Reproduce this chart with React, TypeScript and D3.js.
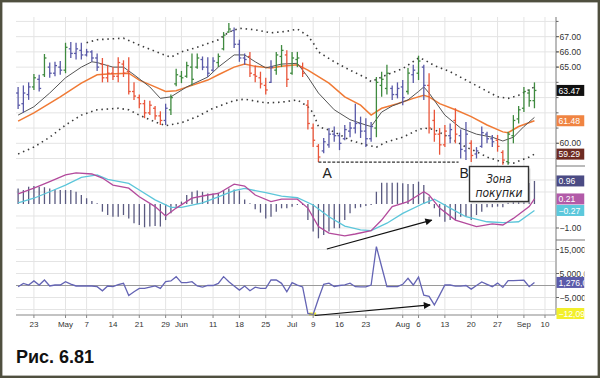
import React from "react";
import * as d3 from "d3";

// ---------- DATA ----------
const startDay = "2007-04-18";
const endDayExcl = "2007-09-11";
const holidays = ["2007-05-28", "2007-07-04", "2007-09-03"];

const tickDates = ["2007-04-23","2007-05-01","2007-05-07","2007-05-14","2007-05-21","2007-05-29","2007-06-01","2007-06-11","2007-06-18","2007-06-25","2007-07-02","2007-07-09","2007-07-16","2007-07-23","2007-08-01","2007-08-06","2007-08-13","2007-08-20","2007-08-27","2007-09-04","2007-09-10"];
const tickLabels = ["23","May","7","14","21","29","Jun","11","18","25","Jul","9","16","23","Aug","6","13","20","27","Sep","10"];

const high = [63.7,63.8,64.0,64.55,64.5,65.86,65.3,65.35,65.4,66.6,66.65,66.6,66.6,66.2,66.1,65.9,65.6,65.15,65.0,65.65,65.45,65.65,64.0,63.2,62.85,62.8,62.45,62.1,62.6,63.2,64.9,64.75,65.35,65.9,65.9,65.7,65.65,65.65,65.9,67.3,67.9,67.6,66.8,65.9,66.0,65.1,64.7,64.3,65.45,66.0,66.45,66.1,66.0,66.0,65.3,62.85,61.3,59.95,60.35,61.0,61.1,60.7,61.2,61.4,62.6,61.75,61.65,61.4,64.35,64.7,65.15,63.8,64.0,64.15,64.95,65.15,65.75,65.15,64.6,62.2,61.0,61.2,61.3,62.3,60.9,61.4,60.2,59.75,61.1,60.75,60.55,60.55,59.55,60.75,61.85,62.45,63.7,63.55,64.0];
const low = [62.25,62.0,62.85,63.5,63.4,64.35,64.3,64.4,64.5,64.6,65.6,65.5,65.5,65.7,65.35,64.75,64.0,64.0,64.15,64.0,64.35,63.2,62.85,62.3,61.65,61.85,61.55,61.2,61.2,61.85,63.75,63.95,64.3,63.8,64.9,64.8,64.35,64.7,65.0,66.1,67.25,66.25,65.35,65.15,64.35,64.0,63.6,63.2,63.95,64.5,65.0,63.7,64.5,65.0,64.35,60.9,59.75,58.77,59.35,59.7,60.1,59.55,60.2,60.4,60.65,60.35,59.75,60.1,60.4,63.05,63.2,62.85,62.95,62.5,63.2,63.95,64.15,62.85,60.65,60.1,59.25,59.75,60.0,60.0,59.0,58.9,58.77,59.0,59.7,60.0,59.75,59.45,58.6,58.6,60.0,61.3,62.05,62.4,62.3];
const open = [63.3,62.6,63.2,63.7,64.2,64.5,65.0,64.6,65.0,64.8,66.2,65.9,66.1,65.8,66.0,65.6,65.2,64.3,64.6,64.4,65.2,64.7,63.4,63.0,62.6,62.0,62.3,61.8,61.5,62.2,63.9,64.4,64.4,65.0,65.0,65.5,65.0,64.8,65.3,66.2,67.3,67.4,66.5,65.6,65.7,64.5,64.3,63.8,64.0,64.8,65.7,65.8,64.6,65.5,65.0,62.5,61.0,59.8,59.5,59.9,60.6,60.5,60.3,60.8,61.0,61.3,60.8,60.3,61.0,63.8,63.6,63.6,63.2,63.7,63.4,64.5,64.6,65.0,63.8,61.5,60.6,59.9,60.5,61.5,60.5,59.5,60.0,59.3,59.8,60.6,60.3,60.2,59.4,58.8,60.5,61.6,62.3,63.3,62.8];
const close = [62.5,63.3,63.7,64.3,63.6,65.6,64.6,65.1,64.8,66.3,65.9,66.2,65.8,66.0,65.6,65.0,64.3,64.6,64.4,65.3,64.6,63.4,63.1,62.6,62.0,62.5,61.8,61.5,62.3,63.0,64.5,64.3,65.1,64.2,65.6,65.0,64.6,65.4,65.7,67.1,67.5,66.5,65.6,65.5,64.6,64.4,63.9,63.5,65.0,65.8,66.1,64.2,65.6,65.6,64.6,61.3,60.2,59.1,60.1,60.6,60.5,60.0,60.9,61.0,61.3,60.8,60.3,61.1,64.0,64.2,64.6,63.2,63.6,63.0,64.6,64.8,65.4,63.8,61.0,60.6,59.9,60.8,60.9,60.6,59.6,60.6,59.2,59.5,60.7,60.3,60.1,59.8,58.9,60.6,61.5,62.2,63.4,62.8,63.47];
const impulse = "bbbgbgbbbgbbbbbbrrrrrrrrrrrrbggggggbbbgggbbbrrrrbggrggrrrrbbbbbbbbbbgggbbbgbgbrrrrbrbbrbbbbrrgggggg";

const emaFast = [[0,61.85],[3,62.4],[6,63.3],[9,64.3],[12,65.0],[14,65.35],[15,65.3],[18,65.0],[20,65.0],[22,64.5],[25,63.7],[27,62.95],[29,63.05],[32,63.7],[36,64.35],[38,65.0],[41,65.8],[43,65.8],[45,65.35],[47,64.95],[50,65.2],[53,65.25],[55,64.35],[57,63.3],[60,62.2],[63,61.55],[66,61.2],[67,61.1],[69,62.05],[71,62.45],[74,62.85],[76,63.4],[77,63.7],[78,63.3],[81,61.85],[84,61.0],[87,60.6],[90,60.4],[92,60.15],[94,60.4],[96,61.1],[98,61.7]];
const emaSlow = [[0,61.45],[3,62.0],[8,63.05],[12,63.95],[15,64.5],[17,64.55],[21,64.6],[23,64.15],[26,63.7],[28,63.4],[30,63.45],[33,63.8],[36,64.15],[38,64.5],[41,65.0],[43,65.2],[45,65.05],[48,64.95],[50,65.05],[53,65.15],[55,64.8],[59,63.95],[62,63.05],[65,62.5],[67,61.85],[69,62.3],[72,62.6],[75,62.95],[77,63.15],[78,63.05],[80,62.6],[83,62.2],[86,61.75],[89,61.2],[92,60.75],[93,60.7],[95,61.1],[98,61.48]];
const envUpper = [[13,66.6],[15,66.8],[20,66.9],[23,66.45],[27,65.9],[29,65.65],[31,66.0],[34,66.3],[38,66.8],[40,67.3],[42,67.55],[45,67.45],[48,67.25],[51,67.35],[53,67.5],[55,67.05],[56,66.6],[57,66.0],[60,65.35],[63,64.8],[66,64.3],[67,64.05],[70,64.5],[73,64.9],[76,65.6],[77,65.5],[79,65.1],[82,64.7],[85,64.15],[88,63.6],[91,63.05],[93,62.95],[95,63.15],[98,63.7]];
const envLower = [[0,59.3],[3,59.75],[6,60.4],[9,61.2],[12,61.85],[15,62.2],[19,62.3],[21,62.2],[23,61.85],[26,61.4],[28,61.15],[31,61.35],[34,61.75],[37,62.3],[41,62.8],[43,62.9],[47,62.65],[50,62.7],[53,62.85],[55,62.4],[56,62.0],[57,61.1],[60,60.75],[63,60.2],[66,59.9],[68,59.75],[70,60.1],[73,60.4],[76,60.9],[77,61.0],[79,60.9],[82,60.35],[85,59.75],[87,59.45],[89,59.1],[92,58.75],[94,58.7],[97,59.1],[98,59.29]];

const macdHist = [0.65,0.58,0.72,0.75,0.72,0.7,0.65,0.6,0.58,0.58,0.58,0.51,0.375,0.24,0.125,0.03,-0.32,-0.46,-0.53,-0.53,-0.46,-0.6,-0.8,-0.875,-0.97,-0.94,-0.92,-0.94,-0.67,-0.39,-0.11,0.1,0.375,0.51,0.56,0.51,0.44,0.44,0.47,0.58,0.65,0.6,0.56,0.19,0.03,-0.22,-0.36,-0.6,-0.53,-0.32,-0.18,-0.18,-0.11,-0.04,-0.04,-0.67,-1.15,-1.43,-1.29,-1.15,-1.01,-1.01,-0.67,-0.39,-0.18,-0.14,-0.08,-0.04,0.51,0.89,0.89,0.89,0.89,0.86,0.83,0.83,0.93,0.79,0.3,-0.18,-0.53,-0.74,-0.67,-0.67,-0.53,-0.53,-0.67,-0.46,-0.32,-0.14,-0.14,-0.11,-0.14,0.05,0.1,0.1,0.2,0.87,0.96];
const macdLine = [[0,0.42],[3,0.66],[6,0.93],[9,1.21],[11,1.3],[14,1.25],[16,1.08],[18,0.79],[21,0.66],[23,0.3],[26,-0.11],[28,-0.5],[30,-0.17],[33,0.24],[36,0.375],[38,0.44],[41,0.83],[43,0.75],[45,0.375],[48,0.1],[50,0.2],[53,0.2],[55,-0.17],[57,-0.94],[59,-1.21],[62,-1.33],[64,-1.25],[67,-1.11],[69,-0.67],[71,-0.11],[74,0.1],[76,0.375],[77,0.51],[78,0.375],[80,-0.17],[83,-0.67],[87,-0.94],[90,-0.83],[92,-0.875],[94,-0.6],[97,-0.11],[98,0.21]];
const signalLine = [[0,0.05],[3,0.24],[6,0.51],[9,0.79],[12,1.11],[15,1.21],[17,1.03],[21,0.86],[23,0.58],[26,0.17],[29,-0.14],[31,-0.14],[35,0.05],[38,0.3],[41,0.56],[43,0.65],[47,0.47],[50,0.33],[53,0.26],[56,-0.04],[59,-0.53],[62,-0.92],[65,-1.08],[67,-1.11],[70,-0.8],[73,-0.39],[77,0.03],[79,0.2],[82,-0.17],[85,-0.53],[89,-0.74],[92,-0.78],[95,-0.74],[98,-0.27]];

// force index, millions
const force = [-0.5,0.9,0.2,1.9,0.2,2.3,-0.2,0.2,0.2,1.6,0.6,-0.2,-0.2,-0.2,-0.2,-0.5,-2.2,-0.2,-0.5,0.4,0.9,-4.2,-2.6,-1.2,-1.2,-0.7,-0.2,-1.2,1.6,1.9,3.7,1.2,1.2,1.6,-0.2,-0.7,0,0,0.9,3.7,1.6,-0.2,-1.9,-0.2,-2.2,-0.7,-1.2,-1.2,2.3,2.3,0.9,-2.6,1.2,0.2,-0.6,-11.6,-12.09,-5.5,0.5,1.0,-0.4,0,0.3,1.0,-0.5,-0.6,-0.6,0.2,16.2,7.8,-0.5,-0.5,-0.5,0.5,3.0,0.2,3.5,-4.0,-4.5,-8.1,-4.0,0.2,0.2,-0.3,-0.3,0,-1.5,0,1.5,0.5,-0.5,1.0,-0.8,2.0,2.0,2.1,2.2,-0.5,1.276];

const priceTickVals = [59,60,61,62,63,64,65,66,67,68];
const priceTickLabels = [67,66,65,60];
const macdGrid = [1,0.5,-0.5,-1];
const macdTickLabels = [-1];
const forceGrid = [15,10,5,-5,-10];
const forceTickLabels = [15,5,-5];

const supportLevel = 58.77;
const supportFrom = 57, supportTo = 83.6;

// ---------- HELPERS ----------
const FONT = "'Liberation Sans', Arial, sans-serif";
const colorOf: Record<string,string> = { g: "#3f8a3f", r: "#e9553a", b: "#5a5aa8" };

export default function App() {
  const parse = d3.utcParse("%Y-%m-%d");
  const fmt = d3.utcFormat("%Y-%m-%d");
  const days = d3.utcDay.range(parse(startDay)!, parse(endDayExcl)!)
    .filter(d => d.getUTCDay() !== 0 && d.getUTCDay() !== 6 && !holidays.includes(fmt(d)));
  const idxOf = new Map(days.map((d, i) => [fmt(d), i]));

  const L = 16, R = 555, AX = 556;
  const x = d3.scaleLinear().domain([-0.4, 101.9]).range([L, R]);
  const yP = d3.scaleLinear().domain([58.51, 68.29]).range([166, 17]);
  const yM = d3.scaleLinear().domain([-1.5, 1.583]).range([240, 166]);
  const yF = d3.scaleLinear().domain([-12.29, 18.96]).range([315, 240]);

  const lineP = d3.line<number[]>().x(d => x(d[0])).y(d => yP(d[1]));
  const lineM = d3.line<number[]>().x(d => x(d[0])).y(d => yM(d[1]));
  const lineF = d3.line<number>().x((_, i) => x(i)).y(d => yF(d));

  const ticks = tickDates.map((d, i) => ({ i: idxOf.get(d)!, label: tickLabels[i] }));
  const n = high.length;
  const last = (a: number[][]) => a[a.length - 1][1];

  const valueBox = (y: number, text: string, bg: string, key: string, fg = "#fff") => (
    <g key={key}>
      <rect x={AX + 0.5} y={y - 5.5} width={28} height={11} fill={bg} />
      <text x={AX + 2.5} y={y + 3.2} fill={fg} fontSize={8.6} fontFamily={FONT}>{text}</text>
    </g>
  );
  const axisLabel = (y: number, text: string, key: string) => (
    <g key={key}>
      <line x1={AX} x2={AX + 3} y1={y} y2={y} stroke="#666" />
      <text x={AX + 3.5} y={y + 3.1} fill="#333" fontSize={8.6} fontFamily={FONT}>{text}</text>
    </g>
  );

  const minForce = d3.min(force)!;
  const minIdx = force.indexOf(minForce);

  return (
    <svg width={600} height={378} style={{ position: "absolute", left: 0, top: 0 }} xmlns="http://www.w3.org/2000/svg">
      <defs>
        <clipPath id="cp"><rect x={L} y={17} width={R - L} height={149} /></clipPath>
        <clipPath id="cm"><rect x={L} y={166} width={R - L} height={74} /></clipPath>
        <clipPath id="cf"><rect x={L} y={240} width={R - L} height={76} /></clipPath>
        <clipPath id="ca"><rect x={AX} y={0} width={28.5} height={378} /></clipPath>
        <marker id="ah" viewBox="0 0 10 10" refX={9} refY={5} markerWidth={9} markerHeight={7} markerUnits="userSpaceOnUse" orient="auto">
          <path d="M0,0 L10,5 L0,10 Z" fill="#111" />
        </marker>
      </defs>
      <rect x={1.2} y={1.2} width={597.6} height={375.6} fill="#fff" stroke="#4f4f3f" strokeWidth={2.4} />

      {/* grids */}
      <g stroke="#e4e4e4" strokeWidth={1}>
        {ticks.map(t => <line key={"vg" + t.i} x1={x(t.i)} x2={x(t.i)} y1={17} y2={315} />)}
        {priceTickVals.map(v => <line key={"pg" + v} x1={L} x2={R} y1={yP(v)} y2={yP(v)} />)}
        {macdGrid.map(v => <line key={"mg" + v} x1={L} x2={R} y1={yM(v)} y2={yM(v)} />)}
        {forceGrid.map(v => <line key={"fg" + v} x1={L} x2={R} y1={yF(v)} y2={yF(v)} />)}
      </g>

      {/* price panel */}
      <g clipPath="url(#cp)">
        <path d={lineP(envUpper)!} fill="none" stroke="#3a3a3a" strokeWidth={1.6} strokeDasharray="1.5 3.8" />
        <path d={lineP(envLower)!} fill="none" stroke="#3a3a3a" strokeWidth={1.6} strokeDasharray="1.5 3.8" />
        <path d={lineP(emaSlow)!} fill="none" stroke="#f07a35" strokeWidth={1.5} />
        <path d={lineP(emaFast)!} fill="none" stroke="#555" strokeWidth={1} />
        {d3.range(n).map(i => {
          const c = colorOf[impulse[i]];
          const xi = x(i);
          return (
            <g key={"bar" + i} stroke={c} strokeWidth={1.3}>
              <line x1={xi} x2={xi} y1={yP(high[i])} y2={yP(low[i])} />
              <line x1={xi - 2} x2={xi} y1={yP(open[i])} y2={yP(open[i])} />
              <line x1={xi} x2={xi + 2} y1={yP(close[i])} y2={yP(close[i])} />
            </g>
          );
        })}
      </g>
      <line x1={x(supportFrom)} x2={x(supportTo)} y1={yP(supportLevel)} y2={yP(supportLevel)} stroke="#333" strokeWidth={1.3} strokeDasharray="3 1.6" />

      {/* MACD panel */}
      <g clipPath="url(#cm)">
        {macdHist.map((v, i) => (
          <line key={"h" + i} x1={x(i)} x2={x(i)} y1={yM(0)} y2={yM(v)} stroke="#5a5a80" strokeWidth={1.3} />
        ))}
        <path d={lineM(signalLine)!} fill="none" stroke="#5cc6da" strokeWidth={1.3} />
        <path d={lineM(macdLine)!} fill="none" stroke="#b34a9c" strokeWidth={1.3} />
      </g>

      {/* Force panel */}
      <g clipPath="url(#cf)">
        <line x1={L} x2={R} y1={yF(0)} y2={yF(0)} stroke="#9a9a9a" strokeWidth={1} />
        <line x1={x(minIdx - 1) + 1} x2={x(minIdx) + 3} y1={yF(minForce) - 0.5} y2={yF(minForce) - 0.5} stroke="#f0ee30" strokeWidth={3} />
        <path d={lineF(force)!} fill="none" stroke="#6464b4" strokeWidth={1.3} />
      </g>

      {/* x axis */}
      <line x1={L} x2={R} y1={315} y2={315} stroke="#888" strokeWidth={1.2} />
      {ticks.map(t => (
        <g key={"xt" + t.i}>
          <line x1={x(t.i)} x2={x(t.i)} y1={315} y2={318} stroke="#888" />
          <text x={x(t.i)} y={327} textAnchor="middle" fontSize={8} fill="#333" fontFamily={FONT}>{t.label}</text>
        </g>
      ))}

      {/* right axis */}
      <line x1={AX} x2={AX} y1={17} y2={315} stroke="#777" strokeWidth={1} />
      <line x1={AX} x2={AX + 29} y1={166} y2={166} stroke="#777" />
      <line x1={AX} x2={AX + 29} y1={240} y2={240} stroke="#777" />
      {priceTickVals.map(v => <line key={"pt" + v} x1={AX} x2={AX + 2.5} y1={yP(v)} y2={yP(v)} stroke="#666" />)}
      <g clipPath="url(#ca)">
        {priceTickLabels.map(v => axisLabel(yP(v), d3.format(".2f")(v), "pl" + v))}
        {valueBox(yP(close[n - 1]), d3.format(".2f")(close[n - 1]), "#111", "vb1")}
        {valueBox(yP(last(emaSlow)), d3.format(".2f")(last(emaSlow)), "#f08442", "vb2")}
        {valueBox(yP(last(envLower)), d3.format(".2f")(last(envLower)), "#6e2b22", "vb3")}
        {macdTickLabels.map(v => axisLabel(yM(v), d3.format(".2f")(v), "ml" + v))}
        {valueBox(yM(macdHist[n - 1]), d3.format(".2f")(macdHist[n - 1]), "#4b4b84", "vb4")}
        {valueBox(yM(last(macdLine)), d3.format(".2f")(last(macdLine)), "#b25aa8", "vb5")}
        {valueBox(yM(last(signalLine)), d3.format(".2f")(last(signalLine)), "#5cc8dc", "vb6")}
        {forceTickLabels.map(v => axisLabel(yF(v), d3.format(",")(v * 1e6), "fl" + v))}
        {valueBox(yF(force[n - 1]), d3.format(",")(Math.round(force[n - 1] * 1e6)), "#5a5aaa", "vb7")}
        {valueBox(yF(minForce) - 1, d3.format(",")(Math.round(minForce * 1e6)), "#f2ef2a", "vb8")}
      </g>

      {/* annotations */}
      <text x={x(57) + 4} y={178} fontSize={14} fill="#222" fontFamily={FONT}>A</text>
      <text x={x(83.6) + 1} y={178} fontSize={14} fill="#222" fontFamily={FONT}>B</text>
      <line x1={x(58.6)} y1={yM(-1.875)} x2={x(78.5)} y2={yM(-0.67)} stroke="#111" strokeWidth={1.2} markerEnd="url(#ah)" />
      <line x1={x(56.3)} y1={yF(-12.5)} x2={x(78.2)} y2={yF(-8.1)} stroke="#111" strokeWidth={1.2} markerEnd="url(#ah)" />
      <rect x={471.5} y={168.5} width={59} height={35} fill="#bbb" opacity={0.5} />
      <rect x={469.5} y={166.5} width={59} height={35} fill="#fff" stroke="#333" strokeWidth={1.4} />
      <text x={499} y={183} textAnchor="middle" fontSize={12} fontStyle="italic" fill="#222" fontFamily="'DejaVu Sans', sans-serif" textLength={25} lengthAdjust="spacingAndGlyphs">Зона</text>
      <text x={499} y={197} textAnchor="middle" fontSize={12} fontStyle="italic" fill="#222" fontFamily="'DejaVu Sans', sans-serif" textLength={47} lengthAdjust="spacingAndGlyphs">покупки</text>

      <text x={16} y={363} fontSize={18} fontWeight="bold" fill="#111" fontFamily={FONT}>Рис. 6.81</text>
    </svg>
  );
}
